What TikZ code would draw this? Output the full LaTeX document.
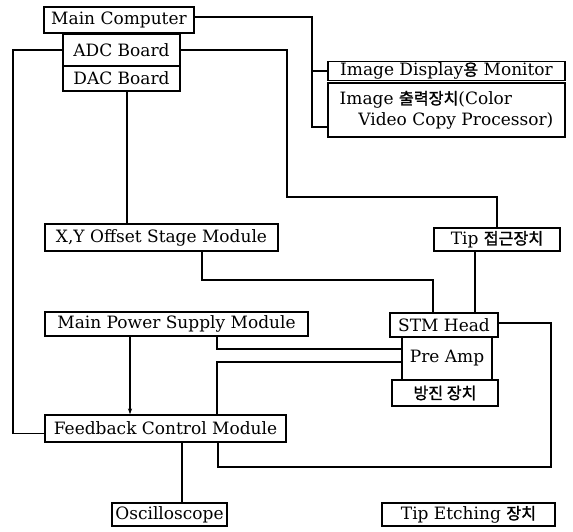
\documentclass[tikz,border=0pt]{standalone}
\usepackage{fontspec}
\setmainfont{DejaVu Serif}
\newfontfamily\krfont{Noto Sans CJK KR}[Scale=0.95, FakeBold=1.5]
\newcommand{\K}[1]{{\krfont #1}}
\usetikzlibrary{arrows.meta,calc}
\begin{document}
\begin{tikzpicture}[x=1pt,y=-1pt,
  box/.style={draw, line width=1.1pt, inner sep=0pt, font=\fontsize{17}{21}\selectfont},
  wire/.style={line width=1.1pt}]
\useasboundingbox (0,0) rectangle (573,531);
% boxes
\node[box, minimum width=150pt, minimum height=26pt] (mc) at (119,20) {Main Computer};
\node[box, minimum width=117pt, minimum height=32pt] (adc) at (121.5,50) {ADC Board};
\node[box, minimum width=117pt, minimum height=25pt] (dac) at (121.5,78.5) {DAC Board};
\node[box, minimum width=237pt, minimum height=19pt] (disp) at (446.5,71) {Image Display\K{용} Monitor};
\node[box, minimum width=237pt, minimum height=54pt, align=left] (out) at (446.5,110)
  {Image \K{출력장치}(Color\\\hspace*{1.1em}Video Copy Processor)};
\node[box, minimum width=233pt, minimum height=27pt] (off) at (161.5,237.5) {X,Y Offset Stage Module};
\node[box, minimum width=126pt, minimum height=23pt] (tip) at (497,239.5) {Tip \K{접근장치}};
\node[box, minimum width=263pt, minimum height=24pt] (mps) at (176.5,324) {Main Power Supply Module};
\node[box, minimum width=108pt, minimum height=24pt] (stm) at (444,325) {STM Head};
\node[box, minimum width=90pt, minimum height=43pt] (pre) at (447,358.5) {Pre Amp};
\node[box, minimum width=106pt, minimum height=26pt] (bang) at (445,393) {\K{방진 장치}};
\node[box, minimum width=241pt, minimum height=27pt] (fb) at (165.5,428.5) {Feedback Control Module};
\node[box, minimum width=115pt, minimum height=23pt] (osc) at (169.5,514.5) {Oscilloscope};
\node[box, minimum width=173pt, minimum height=23pt] (etch) at (468.5,514.5) {Tip Etching \K{장치}};
% helper coordinates
\coordinate (c1) at (312,127);
\coordinate (c2) at (287,197);
\coordinate (c3) at (13,0);
\coordinate (c5) at (202,280);
\coordinate (c5b) at (433,280);
\coordinate (c6) at (475,0);
\coordinate (c7) at (551,467);
\coordinate (c8) at (218,0);
\coordinate (c9) at (217,0);
\coordinate (c10) at (130,0);
\coordinate (c11) at (182,0);
% connectors
\draw[wire] ([yshift=3pt]mc.east) -| (c1) -- (c1 -| out.west);
\draw[wire] (c1 |- disp.west) -- (disp.west);
\draw[wire] (adc.east) -| (c2) -| (tip.north);
\draw[wire] (adc.west) -- (adc.west -| c3) |- ([yshift=-5pt]fb.west);
\draw[wire] ([xshift=5.5pt]dac.south) -- ([xshift=5.5pt]dac.south |- off.north);
\draw[wire] (c5 |- off.south) -- (c5) -- (c5b) -- (c5b |- stm.north);
\draw[wire] (c6 |- tip.south) -- (c6 |- stm.north);
\draw[wire] ([yshift=2pt]stm.east) -| (c7) -| (c8 |- fb.south);
\draw[wire] (c9 |- mps.south) |- ([yshift=9.5pt]pre.west);
\draw[wire] (c9 |- fb.north) |- ([yshift=-3.5pt]pre.west);
\draw[wire, -{Stealth[length=6pt,width=4pt]}] (c10 |- mps.south) -- (c10 |- fb.north);
\draw[wire] (c11 |- fb.south) -- (c11 |- osc.north);
\end{tikzpicture}
\end{document}
